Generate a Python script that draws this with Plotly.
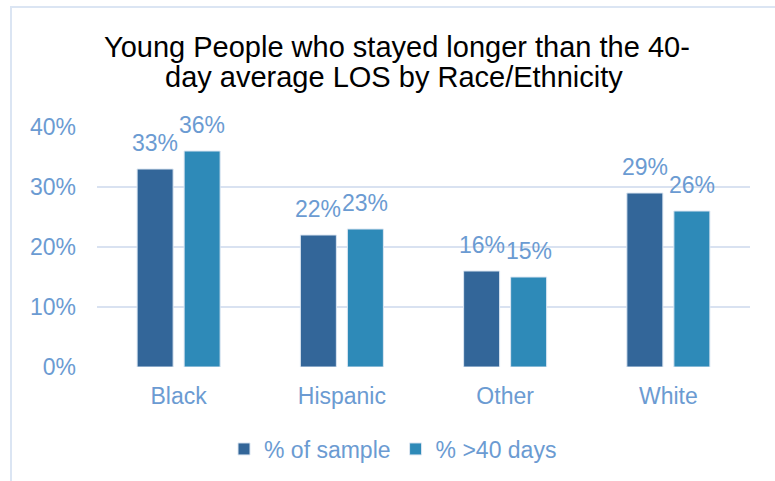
import plotly.graph_objects as go

# Share of young people staying longer than the 40-day average length of stay
categories = ["Black", "Hispanic", "Other", "White"]
pct_of_sample = [0.33, 0.22, 0.16, 0.29]
pct_over_40_days = [0.36, 0.23, 0.15, 0.26]
series_names = ["% of sample", "% >40 days"]
y_ticks = [0, 0.1, 0.2, 0.3, 0.4]
y_tick_labels = ["0%", "10%", "20%", "30%", "40%"]
title_lines = ["Young People who stayed longer than the 40-",
               "day average LOS by Race/Ethnicity"]

FONT = "Liberation Sans, Arial, sans-serif"
TEXT_BLUE = "#6b9bd2"
GRID = "#d9e2f1"
COLORS = ["#336699", "#2e8ab8"]
LABEL_SIZE = 23

W, H = 775, 481
ML, MR, MT, MB = 97, 25, 127, 113
PW, PH = W - ML - MR, H - MT - MB


def px_to_paper_x(px):
    return (px - ML) / PW


def px_to_paper_y(py):
    return (H - MB - py) / PH


fig = go.Figure()
for name, vals, color in zip(series_names, [pct_of_sample, pct_over_40_days], COLORS):
    fig.add_trace(go.Bar(
        name=name, x=categories, y=vals,
        marker=dict(color=color, line=dict(color="#dce6f2", width=1)),
    ))

annotations = []
# value labels above each bar
for vals, shift in [(pct_of_sample, -23.5), (pct_over_40_days, 23.5)]:
    for cat, v in zip(categories, vals):
        annotations.append(dict(
            x=cat, y=v, xref="x", yref="y", text=f"{round(v * 100)}%",
            showarrow=False, xanchor="center", yanchor="bottom",
            xshift=shift, yshift=11,
            font=dict(family=FONT, size=LABEL_SIZE, color=TEXT_BLUE),
        ))

# two-line chart title
for line, cx, cy in zip(title_lines, [397, 394], [47, 77]):
    annotations.append(dict(
        x=px_to_paper_x(cx), y=px_to_paper_y(cy), xref="paper", yref="paper",
        text=line, showarrow=False, xanchor="center", yanchor="middle",
        font=dict(family=FONT, size=29, color="#000000"),
    ))

fig.update_layout(
    width=W, height=H,
    margin=dict(l=ML, r=MR, t=MT, b=MB),
    paper_bgcolor="white", plot_bgcolor="white",
    barmode="group", bargap=0.424, bargroupgap=0.234,
    font=dict(family=FONT, size=LABEL_SIZE, color=TEXT_BLUE),
    showlegend=True,
    legend=dict(
        orientation="h", x=px_to_paper_x(393), xanchor="center",
        y=px_to_paper_y(449), yanchor="middle",
        font=dict(family=FONT, size=LABEL_SIZE, color=TEXT_BLUE),
        bgcolor="rgba(0,0,0,0)",
    ),
    annotations=annotations,
    shapes=[dict(
        type="rect", xref="paper", yref="paper",
        x0=px_to_paper_x(11), x1=px_to_paper_x(800),
        y0=px_to_paper_y(500), y1=px_to_paper_y(6.5),
        line=dict(color="#dbe5f3", width=2), fillcolor="rgba(0,0,0,0)",
        layer="below",
    )],
)

fig.update_yaxes(
    range=[0, 0.4], tickvals=y_ticks, ticktext=y_tick_labels,
    showgrid=True, gridcolor=GRID, gridwidth=1.5, zeroline=False,
    showline=False, ticks="", ticklabelstandoff=20,
    tickfont=dict(family=FONT, size=LABEL_SIZE, color=TEXT_BLUE),
)
fig.update_xaxes(
    showgrid=False, showline=False, ticks="", ticklabelstandoff=13,
    tickfont=dict(family=FONT, size=LABEL_SIZE, color=TEXT_BLUE),
)

fig.write_html("out.html")
